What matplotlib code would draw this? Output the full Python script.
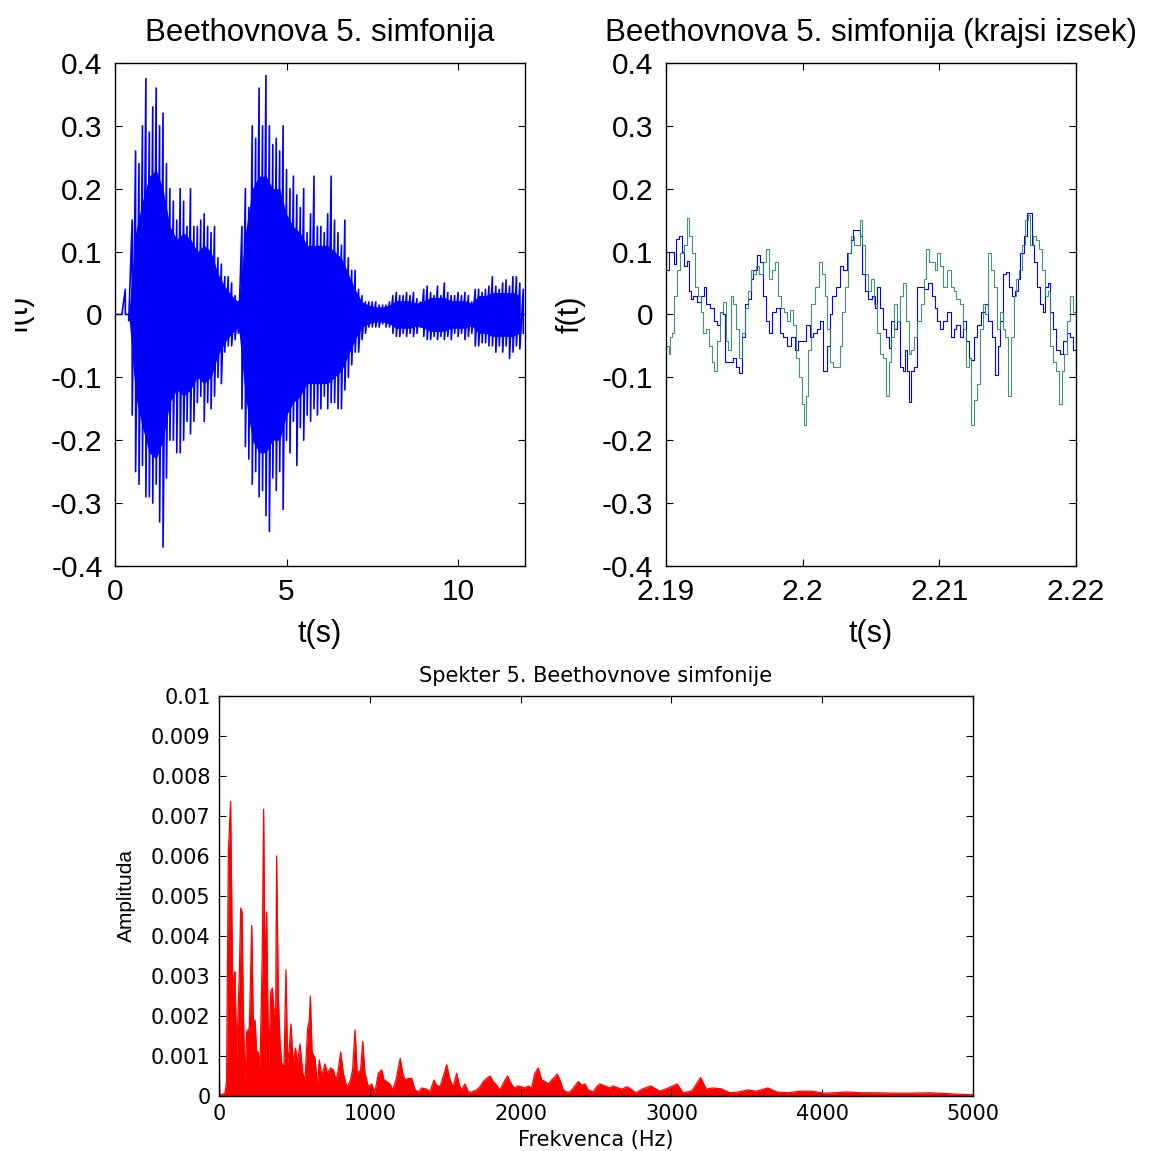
import numpy as np
import matplotlib
matplotlib.use("Agg")
import matplotlib.pyplot as plt
from matplotlib.ticker import FuncFormatter
from matplotlib.transforms import Bbox, TransformedBbox

# ---- podatki (odčitani s slike) ----
# celoten posnetek: ovojnica po 0.1 s (zgornja / spodnja vrednost)
t_full = np.round(np.arange(0, 120) * 0.1, 2)
env_hi = [0.0, 0.0, 0.0, 0.04, 0.0, 0.15, 0.26, 0.24, 0.30, 0.375,
          0.29, 0.33, 0.36, 0.30, 0.32, 0.24, 0.20, 0.18, 0.15, 0.20,
          0.18, 0.14, 0.20, 0.14, 0.14, 0.15, 0.16, 0.14, 0.13, 0.14,
          0.09, 0.08, 0.06, 0.06, 0.05, 0.03, 0.02, 0.14, 0.20, 0.17,
          0.30, 0.28, 0.36, 0.30, 0.38, 0.30, 0.27, 0.28, 0.26, 0.30,
          0.23, 0.20, 0.22, 0.19, 0.17, 0.20, 0.13, 0.16, 0.22, 0.14,
          0.14, 0.13, 0.16, 0.22, 0.15, 0.13, 0.11, 0.15, 0.09, 0.07,
          0.07, 0.04, 0.03, 0.02, 0.02, 0.02, 0.02, 0.015, 0.015, 0.015,
          0.02, 0.03, 0.035, 0.03, 0.03, 0.035, 0.03, 0.035, 0.025, 0.02,
          0.04, 0.045, 0.035, 0.03, 0.045, 0.03, 0.05, 0.035, 0.03, 0.03,
          0.035, 0.03, 0.035, 0.03, 0.02, 0.04, 0.04, 0.035, 0.04, 0.045,
          0.06, 0.045, 0.04, 0.05, 0.055, 0.045, 0.06, 0.06, 0.05, 0.04]
env_lo = [0.0, 0.0, 0.0, 0.0, -0.01, -0.16, -0.25, -0.27, -0.24, -0.29,
          -0.29, -0.30, -0.27, -0.33, -0.37, -0.26, -0.20, -0.20, -0.22, -0.22,
          -0.20, -0.17, -0.19, -0.17, -0.14, -0.13, -0.17, -0.14, -0.15, -0.13,
          -0.10, -0.11, -0.06, -0.05, -0.05, -0.04, -0.03, -0.15, -0.21, -0.23,
          -0.27, -0.25, -0.29, -0.28, -0.32, -0.345, -0.26, -0.28, -0.25, -0.31,
          -0.20, -0.22, -0.17, -0.24, -0.18, -0.20, -0.16, -0.17, -0.15, -0.16,
          -0.15, -0.13, -0.15, -0.14, -0.14, -0.15, -0.15, -0.12, -0.10, -0.08,
          -0.06, -0.06, -0.04, -0.03, -0.02, -0.02, -0.02, -0.02, -0.015, -0.02,
          -0.02, -0.03, -0.035, -0.035, -0.03, -0.035, -0.03, -0.035, -0.03, -0.02,
          -0.035, -0.04, -0.04, -0.035, -0.04, -0.035, -0.04, -0.035, -0.04, -0.03,
          -0.035, -0.03, -0.04, -0.035, -0.03, -0.05, -0.05, -0.045, -0.045, -0.05,
          -0.05, -0.06, -0.05, -0.06, -0.05, -0.07, -0.06, -0.05, -0.055, -0.03]
# gosto pobarvano jedro signala, po 0.2 s
t_core = np.round(np.arange(0, 60) * 0.2, 2)
core = [0.0, 0.0, 0.0, 0.13, 0.18, 0.22, 0.23, 0.20, 0.14, 0.12,
        0.13, 0.12, 0.10, 0.11, 0.10, 0.065, 0.045, 0.03, 0.02, 0.13,
        0.20, 0.22, 0.22, 0.20, 0.20, 0.16, 0.14, 0.13, 0.11, 0.11,
        0.11, 0.11, 0.10, 0.09, 0.065, 0.04, 0.02, 0.015, 0.012, 0.012,
        0.015, 0.022, 0.022, 0.022, 0.018, 0.022, 0.027, 0.027, 0.027, 0.022,
        0.022, 0.022, 0.018, 0.03, 0.03, 0.035, 0.035, 0.035, 0.035, 0.03]

# krajši izsek: čas v ms od 2.19 s, levi (modri) in desni (zeleni) kanal
ms_blue = [0, 0.19, 0.33, 0.47, 0.61, 0.74, 0.96, 1.16, 1.29, 1.51, 1.71, 1.84, 1.98,
           2.26, 2.53, 2.75, 2.94, 3.22, 3.50, 3.77, 3.99, 4.18, 4.32, 4.60, 4.87, 5.15,
           5.37, 5.56, 5.75, 5.97, 6.19, 6.38, 6.66, 6.85, 7.07, 7.35, 7.57, 7.76, 8.04,
           8.31, 8.59, 8.86, 9.14, 9.41, 9.69, 9.96, 10.24, 10.51, 10.79, 11.06, 11.26,
           11.48, 11.61, 11.81, 11.97, 12.16, 12.44, 12.71, 12.99, 13.27, 13.54, 13.68,
           13.95, 14.17, 14.37, 14.56, 14.78, 15.05, 15.27, 15.47, 15.66, 15.88, 16.10,
           16.29, 16.48, 16.70, 16.92, 17.12, 17.31, 17.48, 17.67, 17.81, 17.94, 18.16,
           18.36, 18.63, 18.91, 19.18, 19.46, 19.68, 19.87, 20.06, 20.28, 20.56, 20.83,
           21.05, 21.25, 21.52, 21.71, 21.93, 22.15, 22.35, 22.54, 22.76, 23.03, 23.31,
           23.59, 23.86, 24.08, 24.27, 24.47, 24.69, 24.88, 25.10, 25.29, 25.51, 25.73,
           25.92, 26.20, 26.39, 26.56, 26.75, 26.94, 27.16, 27.38, 27.58, 27.77, 27.93,
           28.13, 28.32, 28.54, 28.81, 29.09, 29.36, 29.58, 29.78, 30.0]
f_blue = [0.07, 0.10, 0.10, 0.10, 0.08, 0.12, 0.125, 0.10, 0.077, 0.085, 0.037, 0.024, 0.03,
          0.02, 0.03, 0.044, 0.017, 0.01, -0.01, -0.016, 0.004, 0.0, -0.076, -0.076, -0.07, -0.083,
          -0.093, -0.036, 0.017, 0.024, 0.057, 0.07, 0.094, 0.084, 0.03, -0.01, -0.03, 0.004, 0.01,
          -0.03, -0.036, -0.05, -0.036, -0.056, -0.043, -0.043, -0.016, -0.036, -0.03, -0.023, -0.01,
          -0.09, -0.09, -0.05, 0.0, 0.03, 0.044, 0.077, 0.07, 0.097, 0.118, 0.134,
          0.134, 0.124, 0.064, 0.037, 0.024, 0.03, 0.01, 0.044, 0.01, -0.023, -0.036,
          -0.053, -0.01, -0.023, -0.01, -0.083, -0.09, -0.056, -0.09, -0.14, -0.09, -0.083,
          0.044, 0.044, 0.04, 0.05, 0.03, 0.01, -0.01, -0.023, -0.01, 0.004, -0.036,
          -0.023, -0.016, -0.036, -0.01, -0.043, -0.07, -0.073, -0.036, -0.016, 0.004, 0.017,
          -0.01, -0.036, -0.096, -0.05, -0.01, 0.064, 0.067, 0.044, 0.03, 0.037, 0.057,
          0.097, 0.124, 0.161, 0.161, 0.11, 0.084, 0.044, 0.017, 0.004, 0.044, 0.05,
          0.004, -0.023, -0.056, -0.063, -0.043, -0.03, -0.036, -0.056, -0.083]
ms_green = [0, 0.19, 0.33, 0.47, 0.61, 0.80, 1.02, 1.29, 1.51, 1.71, 1.90, 2.12, 2.34,
            2.53, 2.72, 2.94, 3.16, 3.36, 3.55, 3.77, 3.99, 4.18, 4.38, 4.54, 4.73, 4.93,
            5.15, 5.37, 5.56, 5.75, 5.97, 6.19, 6.38, 6.58, 6.80, 7.07, 7.29, 7.51, 7.76,
            7.95, 8.17, 8.39, 8.61, 8.83, 9.05, 9.27, 9.49, 9.71, 9.93, 10.10, 10.26,
            10.43, 10.65, 10.93, 11.20, 11.42, 11.61, 11.81, 12.03, 12.25, 12.52, 12.71,
            12.91, 13.13, 13.35, 13.54, 13.73, 13.95, 14.17, 14.37, 14.56, 14.78, 15.00,
            15.22, 15.47, 15.66, 15.88, 16.10, 16.29, 16.48, 16.70, 16.92, 17.12, 17.31,
            17.53, 17.75, 17.94, 18.14, 18.36, 18.63, 18.85, 19.04, 19.24, 19.46, 19.68,
            19.87, 20.06, 20.28, 20.56, 20.83, 21.05, 21.25, 21.52, 21.71, 21.93, 22.15,
            22.35, 22.54, 22.76, 22.98, 23.17, 23.37, 23.59, 23.81, 24.00, 24.19, 24.41,
            24.63, 24.82, 25.02, 25.24, 25.46, 25.65, 25.84, 26.06, 26.28, 26.47, 26.67,
            26.89, 27.11, 27.30, 27.49, 27.71, 27.93, 28.13, 28.32, 28.54, 28.76, 28.95,
            29.14, 29.36, 29.58, 29.78, 30.0]
f_green = [-0.05, -0.063, -0.036, -0.03, 0.03, 0.07, 0.097, 0.11, 0.154, 0.124, 0.097, 0.044, 0.03,
           0.004, -0.03, -0.023, -0.05, -0.076, -0.09, -0.043, 0.004, 0.02, -0.043, -0.056, 0.03, 0.017,
           -0.023, -0.07, -0.03, 0.01, 0.037, 0.07, 0.064, 0.077, 0.064, 0.084, 0.104, 0.057, 0.07,
           0.084, 0.03, 0.01, 0.004, -0.01, 0.007, -0.016, -0.07, -0.10, -0.143, -0.176, -0.13,
           -0.056, 0.017, 0.044, 0.084, 0.064, 0.03, -0.023, -0.076, -0.083, -0.083, -0.05,
           0.004, 0.044, 0.097, 0.124, 0.11, 0.11, 0.151, 0.11, 0.064, 0.037, 0.057,
           0.017, -0.03, -0.063, -0.07, -0.13, -0.076, -0.036, 0.017, -0.01, 0.03, 0.05,
           -0.01, -0.063, -0.056, -0.036, -0.01, 0.017, 0.057, 0.104, 0.084, 0.084, 0.07,
           0.097, 0.077, 0.044, 0.07, 0.044, 0.037, 0.024, 0.017, -0.023, -0.083, -0.07,
           -0.176, -0.136, -0.11, -0.023, 0.017, 0.0, 0.097, 0.07, 0.044, -0.023, 0.004,
           -0.023, -0.036, -0.13, -0.036, 0.03, 0.057, 0.07, 0.11, 0.151, 0.158, 0.11,
           0.124, 0.118, 0.104, 0.07, 0.03, 0.037, -0.05, -0.076, -0.09, -0.143, -0.09,
           -0.063, -0.01, 0.03, 0.004, -0.01]

# spekter: frekvenca (Hz) in amplituda
freq = [0, 5, 20, 40, 50, 62, 77, 91, 100, 106, 117, 135, 144, 153, 161, 172, 183, 201,
        217, 228, 239, 250, 261, 272, 287, 296, 305, 316, 329, 343, 354, 367, 376, 382,
        393, 405, 416, 431, 444, 455, 466, 477, 493, 508, 519, 537, 555, 570, 588, 599,
        606, 617, 637, 652, 665, 681, 703, 718, 740, 758, 776, 791, 807, 824, 847, 869,
        886, 902, 917, 939, 953, 968, 990, 1012, 1034, 1057, 1079, 1094, 1112, 1134,
        1152, 1174, 1189, 1202, 1218, 1233, 1255, 1278, 1300, 1322, 1344, 1377, 1399,
        1426, 1443, 1466, 1488, 1510, 1532, 1554, 1576, 1594, 1609, 1631, 1653, 1676,
        1709, 1731, 1753, 1775, 1797, 1819, 1841, 1863, 1897, 1914, 1930, 1956, 1985,
        2007, 2029, 2051, 2073, 2095, 2117, 2140, 2162, 2184, 2206, 2228, 2243, 2261,
        2283, 2305, 2328, 2350, 2383, 2405, 2427, 2449, 2482, 2504, 2526, 2560, 2593,
        2611, 2669, 2708, 2766, 2805, 2863, 2922, 2980, 3038, 3077, 3135, 3194, 3232,
        3271, 3329, 3388, 3446, 3504, 3563, 3640, 3698, 3776, 3854, 3932, 4009, 4087,
        4165, 4262, 4359, 4476, 4592, 4709, 4825, 4922, 5000]
amp = [0.00132, 0.00005, 0.00003, 0.00008, 0.00036, 0.0061, 0.00736, 0.00265, 0.003, 0.0031,
       0.001, 0.0031, 0.0047, 0.0046, 0.0022, 0.0003, 0.0016, 0.0017,
       0.00426, 0.0017, 0.0019, 0.0011, 0.0011, 0.0007, 0.0036, 0.00717, 0.003, 0.0046, 0.0007,
       0.0026, 0.0027, 0.002, 0.0022, 0.006,
       0.0025, 0.0013, 0.0008, 0.0008, 0.00315, 0.0008, 0.0012, 0.0018, 0.0008, 0.0012, 0.0008,
       0.0013, 0.00057, 0.0004, 0.0017, 0.0019,
       0.0025, 0.0011, 0.00094, 0.00023, 0.0009, 0.0005, 0.0008, 0.00057, 0.0007, 0.00065,
       0.0004, 0.00065, 0.0011, 0.00057, 0.00023, 0.00036,
       0.00065, 0.00165, 0.00057, 0.00065, 0.00136, 0.00057, 0.00023, 0.0003, 0.0001, 0.00057,
       0.00065, 0.0004, 0.00036, 0.0003,
       0.00015, 0.0004, 0.0007, 0.00094, 0.00057, 0.0004, 0.00044, 0.00044, 0.00015, 0.0001,
       0.0002, 0.00017, 0.0001,
       0.0004, 0.00027, 0.00023, 0.0005, 0.00078, 0.0004, 0.00023, 0.00057, 0.00027, 0.00015,
       0.0003, 0.0001, 0.0001,
       0.00015, 0.00023, 0.00036, 0.00044, 0.0005, 0.00036, 0.00027, 0.00015, 0.0004, 0.0005,
       0.00036, 0.0002, 0.00025,
       0.00023, 0.0002, 0.00025, 0.0002, 0.00057, 0.0007, 0.0004, 0.00036, 0.0003, 0.0004,
       0.00048, 0.00055, 0.0004,
       0.00015, 0.0001, 0.0001, 0.0002, 0.00036, 0.00027, 0.0003, 0.00015, 0.0001, 0.00023,
       0.0003, 0.00025, 0.0002,
       0.00025, 0.00017, 0.00023, 0.00008, 0.00017, 0.00025, 0.00012, 0.0002, 0.0003, 0.00008,
       0.00012, 0.00046, 0.00017,
       0.0002, 0.00018, 0.00008, 0.0001, 0.00015, 0.00012, 0.0002, 0.0001, 0.00008, 0.00012,
       0.00012, 0.00007, 0.00008,
       0.0001, 0.00008, 0.00008, 0.00007, 0.00007, 0.00008, 0.00006, 0.00004, 0.00003]

# ---- izris ----
plt.rcParams['font.family'] = ['Liberation Sans', 'DejaVu Sans']
plt.rcParams['axes.unicode_minus'] = False
fmt = FuncFormatter(lambda v, p: '%g' % (round(v, 6) + 0.0))

fig = plt.figure(figsize=(11.49, 11.51), dpi=100)


def style_axes(ax, size, pad):
    ax.tick_params(direction='in', top=True, right=True, length=5, width=0.8,
                   labelsize=size, pad=pad)
    for s in ax.spines.values():
        s.set_linewidth(1.0)
    ax.xaxis.set_major_formatter(fmt)
    ax.yaxis.set_major_formatter(fmt)


# celoten posnetek
ax1 = fig.add_axes([0.1001, 0.5083, 0.3568, 0.437])
ax1.fill_between(t_core, -np.array(core), core, color='#0000ff', lw=0)
tt = np.repeat(t_full, 2)
yy = np.column_stack([env_hi, env_lo]).ravel()
ax1.plot(tt, yy, color='#0000ff', lw=1.2)
ax1.set_xlim(0, 11.95)
ax1.set_ylim(-0.4, 0.4)
ax1.set_xticks([0, 5, 10])
ax1.set_yticks(np.arange(-0.4, 0.41, 0.1))
style_axes(ax1, 21.5, 9)
ax1.set_title('Beethovnova 5. simfonija', fontsize=22.5, pad=16)
ax1.set_xlabel('t(s)', fontsize=22, labelpad=9)
ax1.set_ylabel('f(t)', fontsize=22)
ax1.yaxis.set_label_coords(-0.195, 0.5)
# leva oznaka je v izvirniku delno odrezana
ax1.yaxis.label.set_clip_box(TransformedBbox(Bbox([[15 / 1149, 0], [1, 1]]),
                                             fig.transFigure))
ax1.yaxis.label.set_clip_on(True)

# krajši izsek
ax2 = fig.add_axes([0.5796, 0.5083, 0.3568, 0.437])
tb = 2.19 + np.array(ms_blue) / 1000
tg = 2.19 + np.array(ms_green) / 1000
ax2.plot(tb, f_blue, color='#0000ff', lw=0.8, drawstyle='steps-post')
ax2.plot(tg, f_green, color='#2e8b64', lw=0.8, alpha=0.9, drawstyle='steps-post')
ax2.set_xlim(2.19, 2.22)
ax2.set_ylim(-0.4, 0.4)
ax2.set_xticks([2.19, 2.2, 2.21, 2.22])
ax2.set_yticks(np.arange(-0.4, 0.41, 0.1))
style_axes(ax2, 21.5, 9)
ax2.set_title('Beethovnova 5. simfonija (krajsi izsek)', fontsize=22.5, pad=16)
ax2.set_xlabel('t(s)', fontsize=22, labelpad=9)
ax2.set_ylabel('f(t)', fontsize=22)
ax2.yaxis.set_label_coords(-0.195, 0.5)

# spekter
ax3 = fig.add_axes([0.1906, 0.0478, 0.6562, 0.3475])
ax3.fill_between(freq, amp, 0, color='#ff0000', lw=0)
ax3.plot(freq, amp, color='#ff0000', lw=0.9)
ax3.set_xlim(0, 5000)
ax3.set_ylim(0, 0.01)
ax3.set_xticks(np.arange(0, 5001, 1000))
ax3.set_yticks(np.arange(0, 0.01001, 0.001))
style_axes(ax3, 15, 6)
for lab in ax3.get_xticklabels() + ax3.get_yticklabels():
    lab.set_family('DejaVu Sans')
ax3.set_title('Spekter 5. Beethovnove simfonije', fontsize=15, pad=10,
              family='DejaVu Sans')
ax3.set_xlabel('Frekvenca (Hz)', fontsize=15, labelpad=4, family='DejaVu Sans')
ax3.set_ylabel('Amplituda', fontsize=15, labelpad=11)

fig.savefig('out.png', dpi=100)
